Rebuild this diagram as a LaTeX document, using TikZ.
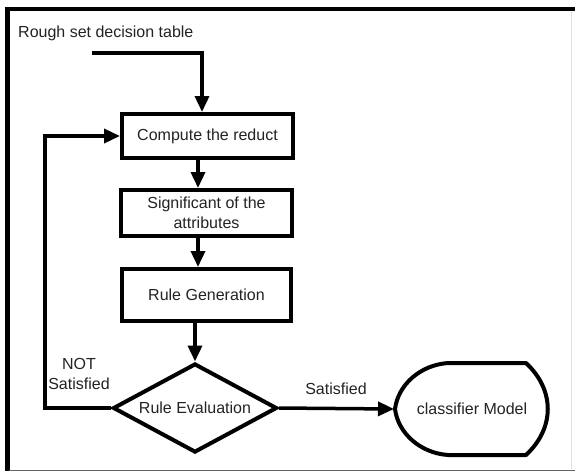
\documentclass[tikz,border=0pt]{standalone}
\usepackage{fontspec}
\setmainfont{Liberation Sans}
\usetikzlibrary{arrows.meta,shapes.geometric,calc}
\definecolor{ink}{RGB}{35,35,35}
\definecolor{edgegray}{RGB}{100,100,100}
\definecolor{faintgray}{RGB}{225,225,225}
\begin{document}
\begin{tikzpicture}[x=1pt,y=-1pt,
  every node/.style={font=\fontsize{16}{20}\selectfont, text=ink},
  flowbox/.style={draw=black, line width=4pt, rectangle, minimum width=171pt, inner sep=2pt, align=center},
  decision/.style={draw=black, line width=4pt, diamond, aspect=1.8, minimum width=164pt, minimum height=89pt, inner sep=0pt},
  conn/.style={line width=3.5pt, draw=black, -{Triangle[length=16pt,width=14pt]}},
  lbl/.style={align=center, inner sep=0pt},
]
\useasboundingbox (0,0) rectangle (575,472);
\fill[white] (0,0) rectangle (575,472);

% outer frame
\draw[line width=4.5pt] (5,9) -- (575,9);
\draw[line width=4.5pt] (7.25,7) -- (7.25,471);
\draw[line width=1.5pt, edgegray] (9,470.5) -- (575,470.5);
\draw[line width=1pt, faintgray] (571,12) -- (571,469);

% helper positions
\coordinate (inx) at (202,0);
\coordinate (axis) at (198,0);
\coordinate (loop) at (45,0);
\coordinate (in) at (92,53);

% process steps
\node[anchor=base west, inner sep=0pt] (title) at (18,37) {Rough set decision table};
\node[flowbox, minimum height=44pt] (b1) at (207.5,136) {Compute the reduct};
\node[flowbox, minimum height=46pt] (b2) at (206.5,213) {Significant of the\\attributes};
\node[flowbox, minimum width=169pt, minimum height=52pt] (b3) at (206.5,295) {Rule Generation};
\node[decision] (re) at (195,408) {Rule Evaluation};

% terminal display shape
\draw[line width=4pt, line join=round]
  (448,363) -- (526,363)
  .. controls (555,390) and (555,428) .. (526,455)
  -- (448,455)
  .. controls (420,453) and (398,433) .. (395,409)
  .. controls (398,385) and (420,365) .. (448,363) -- cycle;
\node (cm) at (472,409) {classifier Model};
\coordinate (cmtip) at (394,409);

% connectors
\draw[conn] (in) -| (b1.north -| inx);
\draw[conn] (b1.south -| axis) -- (b2.north -| axis);
\draw[conn] (b2.south -| axis) -- (b3.north -| axis);
\draw[conn] (b3.south -| re.north) -- (re.north);
\draw[conn] (re.east) -- (cmtip);
\draw[conn] (re.west) -- (re.west -| loop) |- (b1.west);

% branch labels
\node[lbl] (sat) at (336,389) {Satisfied};
\node[lbl] (notsat) at (79,374) {NOT\\Satisfied};
\end{tikzpicture}
\end{document}
